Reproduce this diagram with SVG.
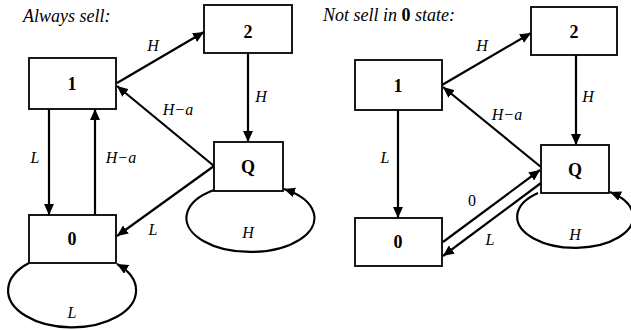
<svg xmlns="http://www.w3.org/2000/svg" width="631" height="330" viewBox="0 0 631 330">
<style>
text{font-family:"Liberation Serif","Times New Roman","DejaVu Serif",serif}
.box{fill:#fff;stroke:#000;stroke-width:1.8}
.node{font-weight:bold;font-size:18px;text-anchor:middle}
.lbl{font-style:italic;font-size:16px;text-anchor:middle}
.num{font-size:16px;text-anchor:middle}
.title{font-style:italic;font-size:18px}
.edge{fill:none;stroke:#000;stroke-width:2.2;marker-end:url(#ah)}
</style>
<defs>
<marker id="ah" markerUnits="userSpaceOnUse" markerWidth="12" markerHeight="10" refX="11" refY="5" orient="auto">
<path d="M0,0 L11,5 L0,10 Z" fill="#000"/>
</marker>
</defs>
<text class="title" x="23" y="22">Always sell:</text>
<text class="title" x="323" y="21">Not sell in <tspan font-style="normal" font-weight="bold">0</tspan> state:</text>
<g id="connectors">
<path class="edge" d="M117,83 L204,32"/>
<path class="edge" d="M248,53 L248,142"/>
<path class="edge" d="M214,166 L117,86"/>
<path class="edge" d="M214,166 L117,236"/>
<path class="edge" d="M49,109 L49,215"/>
<path class="edge" d="M95,215 L95,109"/>
<path class="edge" d="M29,263 A64,37 0 1 0 117,264"/>
<path class="edge" d="M214,190 A64,34 0 1 0 284,189"/>
<path class="edge" d="M442,85 L531,33"/>
<path class="edge" d="M576,55 L576,145"/>
<path class="edge" d="M541,167 L443,87"/>
<path class="edge" d="M398,110 L398,218"/>
<path class="edge" d="M443,242 L540,170"/>
<path class="edge" d="M541,183 L443,256"/>
<path class="edge" d="M538,193 A58,31 0 1 0 610,192"/>
</g>
<g id="labels">
<text class="lbl" x="153" y="51">H</text>
<text class="lbl" x="261" y="102">H</text>
<text class="lbl" x="178" y="115">H−a</text>
<text class="lbl" x="35" y="163">L</text>
<text class="lbl" x="121" y="163">H−a</text>
<text class="lbl" x="153" y="235">L</text>
<text class="lbl" x="248" y="238">H</text>
<text class="lbl" x="72" y="318">L</text>
<text class="lbl" x="482" y="51">H</text>
<text class="lbl" x="588" y="102">H</text>
<text class="lbl" x="507" y="120">H−a</text>
<text class="lbl" x="385" y="163">L</text>
<text class="num" x="472" y="206">0</text>
<text class="lbl" x="490" y="245">L</text>
<text class="lbl" x="575" y="240">H</text>
</g>
<g id="L2"><rect class="box" x="204" y="5" width="88" height="48"/><text class="node" x="248" y="38">2</text></g>
<g id="L1"><rect class="box" x="29" y="58" width="87" height="51"/><text class="node" x="72" y="90">1</text></g>
<g id="LQ"><rect class="box" x="214" y="142" width="69" height="49"/><text class="node" x="248" y="173">Q</text></g>
<g id="L0"><rect class="box" x="29" y="215" width="87" height="48"/><text class="node" x="72" y="245">0</text></g>
<g id="R2"><rect class="box" x="531" y="7" width="86" height="48"/><text class="node" x="574" y="38">2</text></g>
<g id="R1"><rect class="box" x="355" y="60" width="87" height="50"/><text class="node" x="398" y="92">1</text></g>
<g id="RQ"><rect class="box" x="541" y="145" width="68" height="48"/><text class="node" x="575" y="176">Q</text></g>
<g id="R0"><rect class="box" x="355" y="218" width="87" height="48"/><text class="node" x="398" y="248">0</text></g>
</svg>
